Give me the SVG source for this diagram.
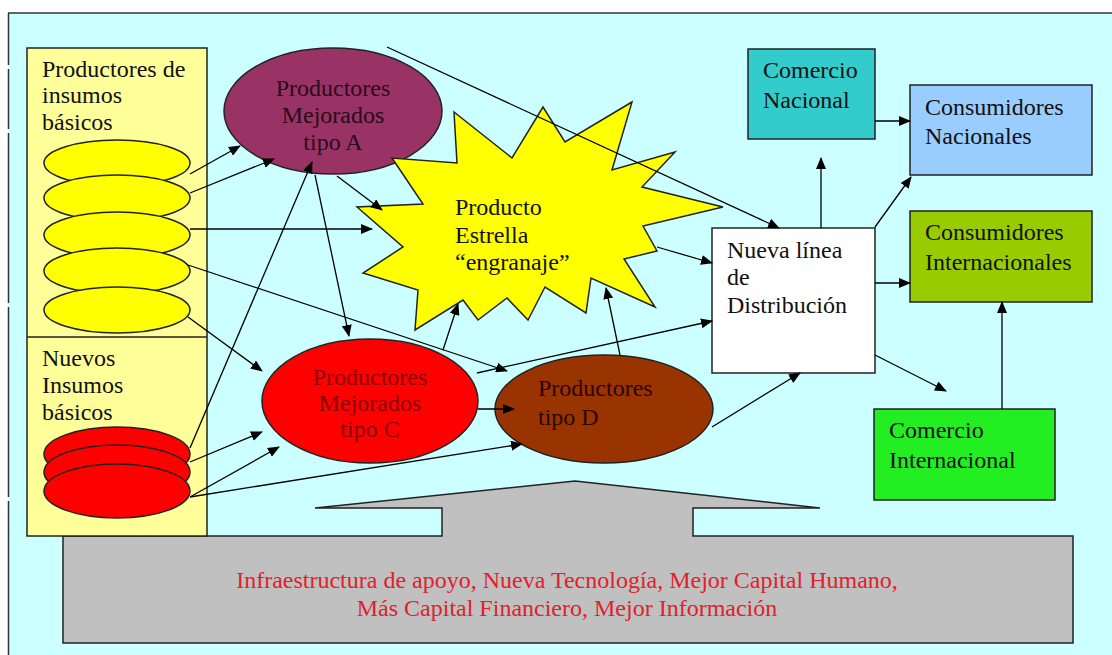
<svg xmlns="http://www.w3.org/2000/svg" width="1112" height="655" viewBox="0 0 1112 655">
  <style>
    text { font-family: "Liberation Serif", "Times New Roman", serif; }
    .t { font-size: 24px; fill: #111; }
    .box { stroke: #222; stroke-width: 1.5; }
    .conn line { stroke: #000; stroke-width: 1.3; marker-end: url(#ah); }
    .infra { font-size: 24px; fill: #e0202a; text-anchor: middle; }
  </style>
  <defs>
    <marker id="ah" markerWidth="12" markerHeight="10" refX="11" refY="5" orient="auto" markerUnits="userSpaceOnUse">
      <path d="M0,0 L12,5 L0,10 z" fill="#000"/>
    </marker>
  </defs>

  <!-- page and frame -->
  <rect x="0" y="0" width="1112" height="655" fill="#ffffff"/>
  <rect x="8" y="13" width="1104" height="642" fill="#ccffff"/>
  <line x1="8" y1="13" x2="1112" y2="13" stroke="#333" stroke-width="1.5"/>
  <line x1="8.5" y1="13" x2="8.5" y2="655" stroke="#333" stroke-width="1.5" stroke-dasharray="52 4 60 4 170 4 190 4 300"/>

  <!-- support base -->
  <g id="base">
    <polygon class="box" fill="#c0c0c0" points="63,536 442,536 442,508 315,508 575,481 820,508 693,508 693,536 1073,536 1073,643 63,643"/>
    <text class="infra" x="567" y="588">Infraestructura de apoyo, Nueva  Tecnología, Mejor Capital Humano,</text>
    <text class="infra" x="567" y="616">Más Capital Financiero, Mejor Información</text>
  </g>

  <!-- input producers panel -->
  <g id="insumos">
    <rect class="box" x="27" y="48" width="180" height="488" fill="#ffff99"/>
    <line x1="27" y1="337" x2="207" y2="337" stroke="#222" stroke-width="1.5"/>
    <text class="t" x="42" y="77">Productores de</text>
    <text class="t" x="42" y="103">insumos</text>
    <text class="t" x="42" y="130">básicos</text>
    <g fill="#ffff00" class="box">
      <ellipse cx="117" cy="163" rx="73" ry="23"/>
      <ellipse cx="117" cy="198" rx="73" ry="23"/>
      <ellipse cx="117" cy="235" rx="73" ry="23"/>
      <ellipse cx="117" cy="271" rx="73" ry="23"/>
      <ellipse cx="117" cy="310" rx="73" ry="23"/>
    </g>
    <text class="t" x="42" y="366">Nuevos</text>
    <text class="t" x="42" y="393">Insumos</text>
    <text class="t" x="42" y="420">básicos</text>
    <g fill="#ff0000" class="box">
      <ellipse cx="117" cy="454" rx="73" ry="27"/>
      <ellipse cx="117" cy="472" rx="73" ry="27"/>
      <ellipse cx="117" cy="491" rx="73" ry="27"/>
    </g>
  </g>

  <g id="tipoA">
    <ellipse class="box" cx="333" cy="111" rx="109" ry="63" fill="#993366"/>
    <g class="t" text-anchor="middle" style="fill:#2a0a1a">
      <text x="333" y="96">Productores</text>
      <text x="333" y="123">Mejorados</text>
      <text x="333" y="150">tipo A</text>
    </g>
  </g>

  <g id="estrella">
    <polygon class="box" fill="#ffff00" points="454,112 512,158 543,107 565,142 632,102 612,170 675,152 642,187 723,207 643,226 657,251 624,259 655,307 591,278 586,313 545,287 528,320 507,298 478,320 463,300 415,330 418,290 363,273 403,247 357,207 423,204 392,158 457,163"/>
    <text class="t" x="455" y="215">Producto</text>
    <text class="t" x="455" y="243">Estrella</text>
    <text class="t" x="455" y="270">“engranaje”</text>
  </g>

  <g id="tipoC">
    <ellipse class="box" cx="370" cy="401" rx="108" ry="62" fill="#ff0000"/>
    <g class="t" text-anchor="middle" style="fill:#8a0000">
      <text x="370" y="385">Productores</text>
      <text x="370" y="411">Mejorados</text>
      <text x="370" y="437">tipo C</text>
    </g>
  </g>

  <g id="tipoD">
    <ellipse class="box" cx="604" cy="409" rx="109" ry="54" fill="#993300"/>
    <text class="t" x="538" y="396" style="fill:#2a0800">Productores</text>
    <text class="t" x="538" y="425" style="fill:#2a0800">tipo D</text>
  </g>

  <g id="distribucion">
    <rect class="box" x="712" y="228" width="163" height="145" fill="#ffffff"/>
    <text class="t" x="727" y="258">Nueva línea</text>
    <text class="t" x="727" y="285">de</text>
    <text class="t" x="727" y="313">Distribución</text>
  </g>

  <g id="comercioNacional">
    <rect class="box" x="748" y="49" width="127" height="90" fill="#33cccc"/>
    <text class="t" x="763" y="78">Comercio</text>
    <text class="t" x="763" y="108">Nacional</text>
  </g>

  <g id="consumidoresNacionales">
    <rect class="box" x="910" y="85" width="182" height="90" fill="#99ccff"/>
    <text class="t" x="925" y="115">Consumidores</text>
    <text class="t" x="925" y="144">Nacionales</text>
  </g>

  <g id="consumidoresInternacionales">
    <rect class="box" x="910" y="211" width="182" height="91" fill="#99cc00"/>
    <text class="t" x="925" y="240">Consumidores</text>
    <text class="t" x="925" y="270">Internacionales</text>
  </g>

  <g id="comercioInternacional">
    <rect class="box" x="874" y="409" width="181" height="91" fill="#22ee22"/>
    <text class="t" x="889" y="438">Comercio</text>
    <text class="t" x="889" y="468">Internacional</text>
  </g>

  <g id="connectors" class="conn">
    <line x1="190" y1="174" x2="240" y2="146"/>
    <line x1="190" y1="193" x2="274" y2="159"/>
    <line x1="190" y1="229" x2="372" y2="229"/>
    <line x1="188" y1="265" x2="507" y2="371"/>
    <line x1="188" y1="317" x2="262" y2="371"/>
    <line x1="190" y1="448" x2="312" y2="162"/>
    <line x1="190" y1="462" x2="262" y2="432"/>
    <line x1="190" y1="497" x2="279" y2="447"/>
    <line x1="190" y1="497" x2="522" y2="444"/>
    <line x1="337" y1="176" x2="382" y2="210"/>
    <line x1="315" y1="175" x2="349" y2="336"/>
    <line x1="387" y1="47" x2="779" y2="228"/>
    <line x1="443" y1="350" x2="458" y2="304"/>
    <line x1="478" y1="409" x2="514" y2="409"/>
    <line x1="477" y1="373" x2="712" y2="321"/>
    <line x1="620" y1="355" x2="606" y2="288"/>
    <line x1="712" y1="427" x2="800" y2="373"/>
    <line x1="657" y1="247" x2="712" y2="263"/>
    <line x1="821" y1="228" x2="821" y2="158"/>
    <line x1="875" y1="227" x2="911" y2="177"/>
    <line x1="875" y1="283" x2="910" y2="283"/>
    <line x1="875" y1="355" x2="946" y2="391"/>
    <line x1="875" y1="121" x2="910" y2="121"/>
    <line x1="1002" y1="409" x2="1002" y2="302"/>
  </g>
</svg>
